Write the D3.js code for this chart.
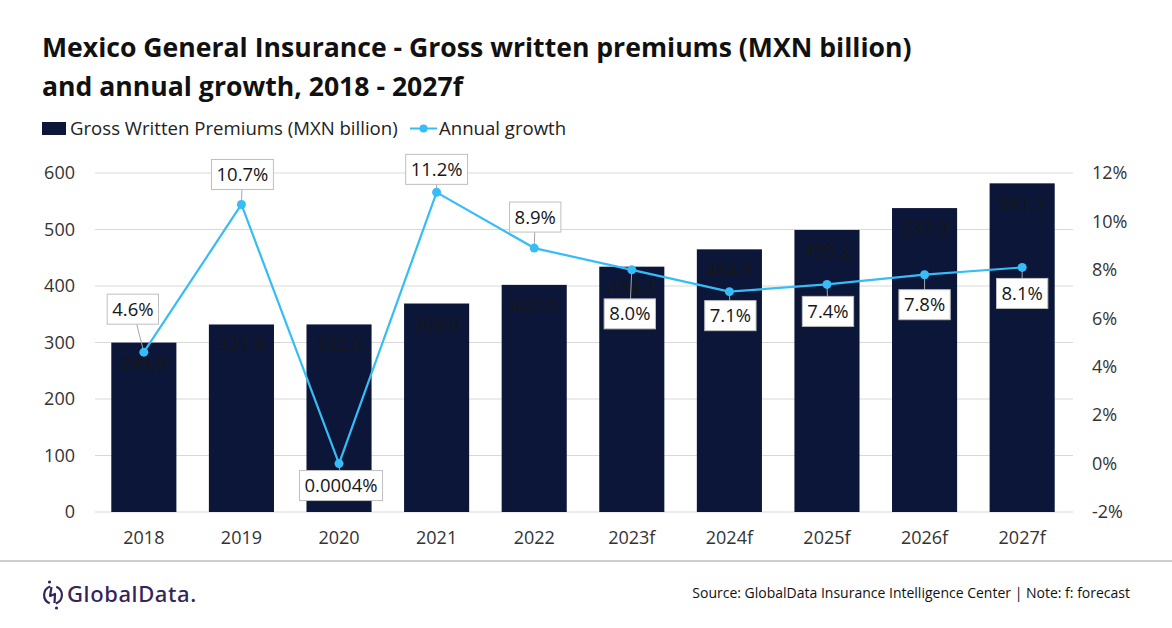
<!DOCTYPE html>
<meta charset="utf-8">
<script src="https://d3js.org/d3.v7.min.js"></script>
<style>
  body { margin: 0; background: #fff; }
  svg { display: block; font-family: "Open Sans", sans-serif; }
</style>
<div id="chart"></div>
<script>

    // chart data
    const years = ["2018", "2019", "2020", "2021", "2022", "2023f", "2024f", "2025f", "2026f", "2027f"];
    const premiums = [299.8, 331.9, 332.0, 369.0, 402.0, 434.2, 464.9, 499.2, 537.9, 581.7];
    const growth = [4.6, 10.7, 0.0004, 11.2, 8.9, 8.0, 7.1, 7.4, 7.8, 8.1];
    const growthLabels = ["4.6%", "10.7%", "0.0004%", "11.2%", "8.9%", "8.0%", "7.1%", "7.4%", "7.8%", "8.1%"];
    const leftTicks = [0, 100, 200, 300, 400, 500, 600];
    const rightTicks = [-2, 0, 2, 4, 6, 8, 10, 12];

    // where each growth label box sits relative to its point (px)
    const labelOffsets = [[-11, -43], [1, -30], [2, 22], [0, -23], [1, -31], [-2, 44], [1, 24], [1, 27], [0, 30], [0, 26]];

    const width = 1172;
    const height = 628;
    const barColor = "#0c1639";
    const lineColor = "#36bcf7";

    const svg = d3.select("#chart")
        .append("svg")
        .attr("width", width)
        .attr("height", height)
        .attr("viewBox", [0, 0, width, height]);

    // title
    const title = svg.append("g")
        .attr("font-weight", 700)
        .attr("font-size", 26.6)
        .attr("fill", "#111");
    title.append("text").attr("x", 42).attr("y", 57)
        .text("Mexico General Insurance - Gross written premiums (MXN billion)");
    title.append("text").attr("x", 42).attr("y", 96)
        .text("and annual growth, 2018 - 2027f");

    // legend
    const legend = svg.append("g").attr("font-size", 18.6).attr("fill", "#222");
    legend.append("rect").attr("x", 42).attr("y", 122).attr("width", 24).attr("height", 13).attr("fill", barColor);
    legend.append("text").attr("x", 70).attr("y", 135).text("Gross Written Premiums (MXN billion)");
    legend.append("line").attr("x1", 410).attr("x2", 437).attr("y1", 128.5).attr("y2", 128.5)
        .attr("stroke", lineColor).attr("stroke-width", 2);
    legend.append("circle").attr("cx", 423.5).attr("cy", 128.5).attr("r", 4).attr("fill", lineColor);
    legend.append("text").attr("x", 439).attr("y", 135).text("Annual growth");

    // scales
    const x = d3.scaleBand()
        .domain(years)
        .range([95, 1071])
        .paddingInner(0.333)
        .paddingOuter(0.167);

    const yLeft = d3.scaleLinear().domain([0, 600]).range([512, 173]);
    const yRight = d3.scaleLinear().domain([-2, 12]).range([512, 173]);

    // gridlines
    svg.append("g")
        .attr("stroke", "#d9d9d9")
        .selectAll("line")
        .data(leftTicks)
        .join("line")
        .attr("x1", 95)
        .attr("x2", 1073)
        .attr("y1", d => yLeft(d))
        .attr("y2", d => yLeft(d));

    // axes
    svg.append("g")
        .attr("transform", "translate(80,0)")
        .call(d3.axisLeft(yLeft).tickValues(leftTicks).tickSize(0).tickPadding(5))
        .call(g => g.select(".domain").remove())
        .call(g => g.selectAll("text").attr("font-size", 18).attr("fill", "#333").attr("font-family", "Open Sans"));

    svg.append("g")
        .attr("transform", "translate(1087,0)")
        .call(d3.axisRight(yRight).tickValues(rightTicks).tickSize(0).tickPadding(5).tickFormat(d => d + "%"))
        .call(g => g.select(".domain").remove())
        .call(g => g.selectAll("text").attr("font-size", 18).attr("fill", "#333").attr("font-family", "Open Sans"));

    svg.append("g")
        .attr("transform", "translate(0,512)")
        .call(d3.axisBottom(x).tickSize(0).tickPadding(19))
        .call(g => g.select(".domain").remove())
        .call(g => g.selectAll("text").attr("font-size", 18).attr("fill", "#333").attr("font-family", "Open Sans"));

    // bars
    svg.append("g")
        .attr("fill", barColor)
        .selectAll("rect")
        .data(premiums)
        .join("rect")
        .attr("x", (d, i) => x(years[i]))
        .attr("y", d => yLeft(d))
        .attr("width", x.bandwidth())
        .attr("height", d => yLeft(0) - yLeft(d));

    svg.append("g")
        .attr("fill", "#161616")
        .attr("font-size", 18.5)
        .attr("text-anchor", "middle")
        .selectAll("text")
        .data(premiums)
        .join("text")
        .attr("x", (d, i) => x(years[i]) + x.bandwidth() / 2)
        .attr("y", d => yLeft(d) + 27)
        .text(d => d.toFixed(1));

    // growth line
    const pts = growth.map((d, i) => [x(years[i]) + x.bandwidth() / 2, yRight(d)]);

    // leader lines from point to label
    svg.append("g")
        .attr("stroke", "#a6a6a6")
        .attr("stroke-width", 1)
        .selectAll("line")
        .data(pts)
        .join("line")
        .attr("x1", d => d[0])
        .attr("y1", d => d[1])
        .attr("x2", (d, i) => d[0] + labelOffsets[i][0])
        .attr("y2", (d, i) => d[1] + labelOffsets[i][1]);

    svg.append("path")
        .datum(pts)
        .attr("fill", "none")
        .attr("stroke", lineColor)
        .attr("stroke-width", 2.2)
        .attr("stroke-linejoin", "round")
        .attr("d", d3.line());

    svg.append("g")
        .attr("fill", lineColor)
        .selectAll("circle")
        .data(pts)
        .join("circle")
        .attr("cx", d => d[0])
        .attr("cy", d => d[1])
        .attr("r", 4.5);

    // growth labels in boxes
    const labels = svg.append("g")
        .selectAll("g")
        .data(growthLabels)
        .join("g")
        .attr("transform", (d, i) => `translate(${pts[i][0] + labelOffsets[i][0]},${pts[i][1] + labelOffsets[i][1]})`);

    labels.append("rect")
        .attr("fill", "#fff")
        .attr("stroke", "#bfbfbf")
        .attr("stroke-width", 1);

    labels.append("text")
        .attr("text-anchor", "middle")
        .attr("dy", "0.35em")
        .attr("font-size", 18.5)
        .attr("fill", "#161616")
        .text(d => d);

    labels.each(function () {
        const g = d3.select(this);
        const w = g.select("text").node().getComputedTextLength();
        g.select("rect")
            .attr("x", -w / 2 - 5)
            .attr("y", -15)
            .attr("width", w + 10)
            .attr("height", 30);
    });

    // footer
    svg.append("line")
        .attr("x1", 0).attr("x2", width)
        .attr("y1", 561).attr("y2", 561)
        .attr("stroke", "#a0a0a0").attr("stroke-width", 1.2);

    const logo = svg.append("g").attr("transform", "translate(53,595)");
    const ring = d3.arc().innerRadius(7.8).outerRadius(10);
    logo.append("path").attr("d", ring({ startAngle: Math.PI * 1.12, endAngle: Math.PI * 1.9 })).attr("fill", "#33245a");
    logo.append("path").attr("d", ring({ startAngle: Math.PI * 0.12, endAngle: Math.PI * 0.9 })).attr("fill", "#33245a");
    logo.append("path")
        .attr("d", "M-1.5,-8 L-3,1 L2,-1 L1.5,8")
        .attr("fill", "none").attr("stroke", "#33245a").attr("stroke-width", 2.2).attr("stroke-linejoin", "round");
    logo.append("circle").attr("cx", -3.5).attr("cy", -13).attr("r", 1.6).attr("fill", "#33245a");
    logo.append("circle").attr("cx", 3.5).attr("cy", 13).attr("r", 1.6).attr("fill", "#33245a");

    svg.append("text")
        .attr("x", 67).attr("y", 602)
        .attr("font-family", "Noto Sans")
        .attr("font-size", 22)
        .attr("font-weight", 500)
        .attr("fill", "#33245a")
        .attr("letter-spacing", 0.6)
        .text("GlobalData.");

    svg.append("text")
        .attr("x", 1130).attr("y", 598)
        .attr("text-anchor", "end")
        .attr("font-size", 14)
        .attr("fill", "#111")
        .text("Source: GlobalData Insurance Intelligence Center | Note: f: forecast");

</script>
